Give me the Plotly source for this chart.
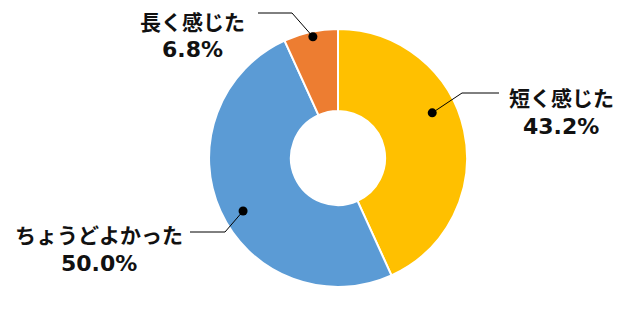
import plotly.graph_objects as go
import math

labels = ["短く感じた", "ちょうどよかった", "長く感じた"]
values = [43.2, 50.0, 6.8]
colors = ["#FFC000", "#5B9BD5", "#ED7D31"]
pct_text = ["43.2%", "50.0%", "6.8%"]

W, H = 640, 312
cx, cy, R = 338, 158, 129

def px(x):
    return x / W

def py(y):
    return 1 - y / H

fig = go.Figure(go.Pie(
    labels=labels, values=values, sort=False, direction="clockwise", rotation=0,
    hole=0.365, marker=dict(colors=colors, line=dict(color="white", width=2)),
    textinfo="none", showlegend=False, hoverinfo="label+percent",
    domain=dict(x=[px(cx - R), px(cx + R)], y=[py(cy + R), py(cy - R)]),
))

# label layout: (text center x, line1 y, line2 y, dot angle deg cw from top, dot radius frac, elbow x, elbow y, line end x)
lay = [
    (561, 97, 126, 64.4, 0.81, 462, 93, 499),
    (99, 234, 263, 240.8, 0.843, 225, 232, 190),
    (192, 21, 49, -11.7, 0.96, 292, 13, 258),
]

shapes = []
annotations = []
for i, (tx, y1, y2, ang, rf, ex, ey, lx) in enumerate(lay):
    a = math.radians(ang)
    dx = cx + R * rf * math.sin(a)
    dy = cy - R * rf * math.cos(a)
    shapes.append(dict(type="path", xref="paper", yref="paper",
                       path=f"M {px(dx)} {py(dy)} L {px(ex)} {py(ey)} L {px(lx)} {py(ey)}",
                       line=dict(color="black", width=1)))
    r = 4.5
    shapes.append(dict(type="circle", xref="paper", yref="paper",
                       x0=px(dx - r), x1=px(dx + r), y0=py(dy + r), y1=py(dy - r),
                       fillcolor="black", line=dict(color="black", width=0)))
    annotations.append(dict(x=px(tx), y=py(y1), xref="paper", yref="paper",
                            text=f"<b>{labels[i]}</b>", showarrow=False,
                            xanchor="center", yanchor="middle",
                            font=dict(size=21, color="#111111", family="Noto Sans CJK JP")))
    annotations.append(dict(x=px(tx), y=py(y2), xref="paper", yref="paper",
                            text=f"<b>{pct_text[i]}</b>", showarrow=False,
                            xanchor="center", yanchor="middle",
                            font=dict(size=22, color="#111111", family="DejaVu Sans")))

fig.update_layout(width=W, height=H, margin=dict(l=0, r=0, t=0, b=0),
                  paper_bgcolor="white", plot_bgcolor="white",
                  shapes=shapes, annotations=annotations)

fig.write_html("out.html")
